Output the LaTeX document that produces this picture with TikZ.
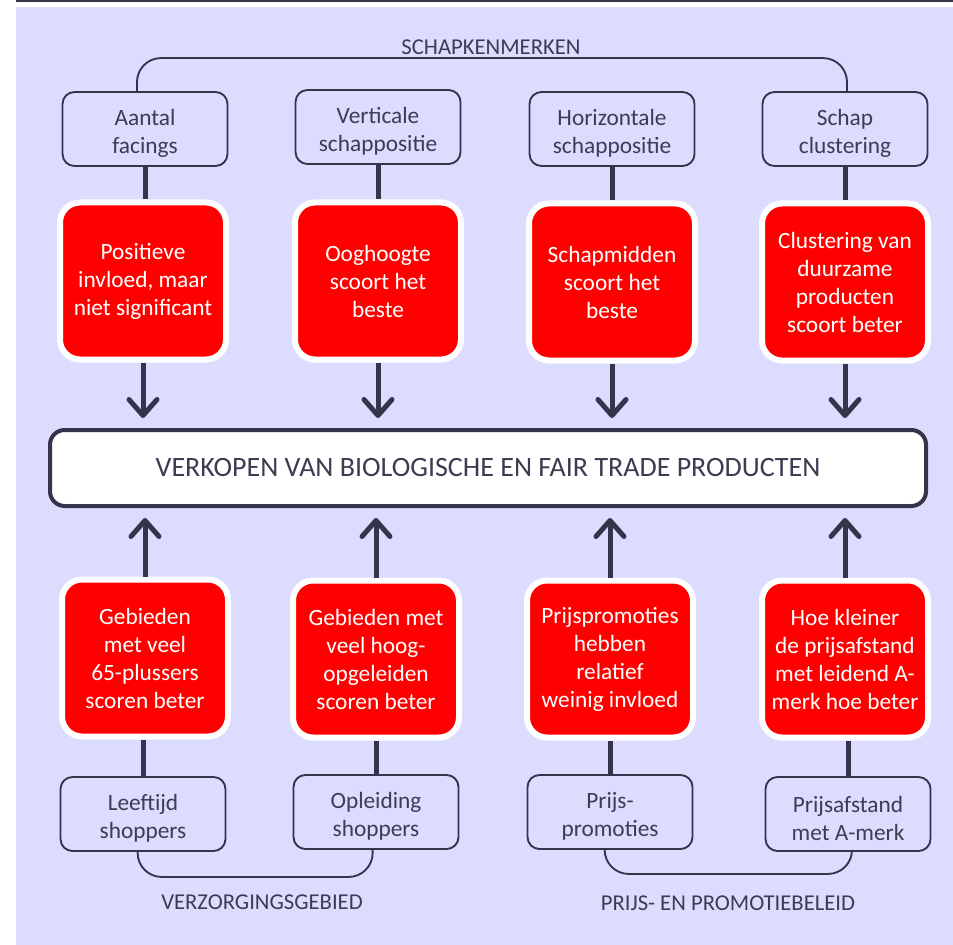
\documentclass[tikz,border=0pt]{standalone}
\usepackage{fontspec}
\setmainfont{Carlito}
\usetikzlibrary{positioning, arrows.meta}
\definecolor{lavender}{RGB}{220,220,255}
\definecolor{inkdark}{RGB}{53,52,75}
\definecolor{txtdark}{RGB}{60,60,82}
\newcommand{\toplift}{\rule{0pt}{19pt}}

\begin{document}
\begin{tikzpicture}[x=0.75pt, y=-0.75pt,
    factor/.style={draw=inkdark, line width=1.4pt, fill=lavender, rounded corners=9pt,
        minimum width=123.75pt, minimum height=55.5pt, align=center, text=txtdark,
        font=\fontsize{17.5}{21}\selectfont},
    effect/.style={draw=white, line width=4.5pt, fill=red, rounded corners=15pt,
        minimum width=124.5pt, minimum height=117.75pt, align=center, text=white,
        font=\fontsize{17.5}{21}\selectfont},
    sales/.style={draw=inkdark, line width=3pt, fill=white, rounded corners=11pt,
        minimum width=657pt, minimum height=57pt, text=txtdark,
        font=\fontsize{21}{25}\selectfont},
    group/.style={text=txtdark, font=\fontsize{17}{20}\selectfont},
    link/.style={draw=inkdark, line width=3.75pt},
    push/.style={link, -{Straight Barb[length=12pt, width=21pt, line width=3.75pt, round]},
        shorten >=7.5pt},
    bracket/.style={draw=inkdark, line width=1.4pt, rounded corners=18pt}]
	\useasboundingbox (0,0) rectangle (953,945);
	\fill[lavender] (16,7) rectangle (953,945);
	\draw[inkdark, line width=1.1pt] (16,1) -- (953,1);

	% schapkenmerken
	\node[factor] (tf1) at (145,129) {\toplift Aantal\\facings};
	\node[factor] (tf2) at (378,127) {\toplift Verticale\\schappositie};
	\node[factor] (tf3) at (612,129) {\toplift Horizontale\\schappositie};
	\node[factor] (tf4) at (845,129) {\toplift Schap\\clustering};

	\node[effect] (te1) at (143,281) {Positieve\\invloed, maar\\niet significant};
	\node[effect] (te2) at (378,281) {Ooghoogte\\scoort het\\beste};
	\node[effect] (te3) at (612,282) {Schapmidden\\scoort het\\beste};
	\node[effect] (te4) at (845,282) {Clustering van\\duurzame\\producten\\scoort beter};

	\node[sales] (sales) at (488,468) {VERKOPEN VAN BIOLOGISCHE EN FAIR TRADE PRODUCTEN};

	% verzorgingsgebied, prijs- en promotiebeleid
	\node[effect] (be1) at (145,658) {Gebieden\\met veel\\65-plussers\\scoren beter};
	\node[effect] (be2) at (376,659) {Gebieden met\\veel hoog-\\opgeleiden\\scoren beter};
	\node[effect] (be3) at (610,659) {Prijspromoties\\hebben\\relatief\\weinig invloed};
	\node[effect] (be4) at (845,659) {Hoe kleiner\\de prijsafstand\\met leidend A-\\merk hoe beter};

	\node[factor] (bf1) at (143,814) {\toplift Leeftijd\\shoppers};
	\node[factor] (bf2) at (376,812) {\toplift Opleiding\\shoppers};
	\node[factor] (bf3) at (610,812) {\toplift Prijs-\\promoties};
	\node[factor] (bf4) at (848,814) {\toplift Prijsafstand\\met A-merk};

	\foreach \i in {1,...,4} {
		\draw[link] (tf\i.south) -- (tf\i.south |- te\i.north);
		\draw[push] (te\i.south) -- (te\i.south |- sales.north);
		\draw[push] (be\i.north) -- (be\i.north |- sales.south);
		\draw[link] (bf\i.north) -- (bf\i.north |- be\i.south);
	}

	% groepen
	\draw[bracket] ([xshift=-6pt]tf1.north) -- ++(0,-33) -| ([xshift=1.5pt]tf4.north);
	\draw[bracket] ([xshift=-4pt]bf1.south) -- ++(0,25) -| ([xshift=-2.5pt]bf2.south);
	\draw[bracket] ([xshift=-4pt]bf3.south) -- ++(0,24) -| ([xshift=3pt]bf4.south);

	\node[group] (shap) at (491,47) {SCHAPKENMERKEN};
	\node[group] (verz) at (262,902) {VERZORGINGSGEBIED};
	\node[group] (prijs) at (728,903) {PRIJS- EN PROMOTIEBELEID};
\end{tikzpicture}
\end{document}
